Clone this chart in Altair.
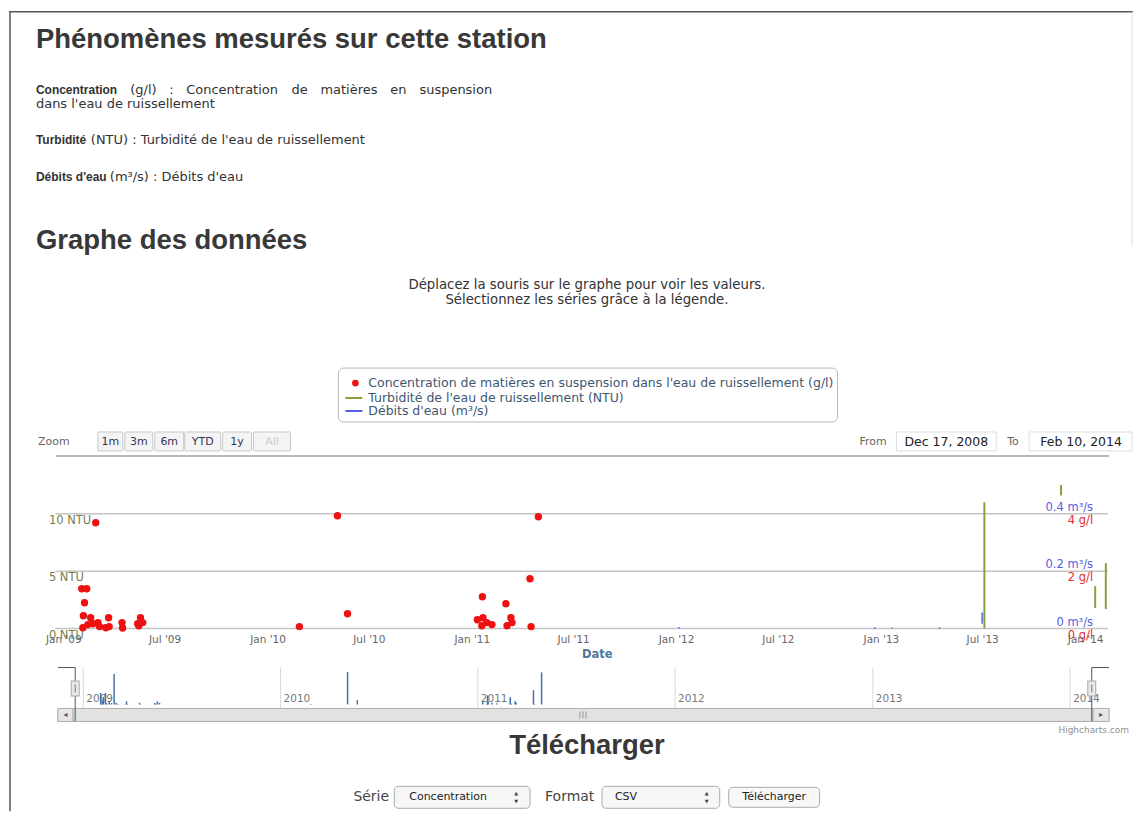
import altair as alt
import pandas as pd

# ---------------- data ----------------
conc_dates = ["2009-02-27", "2009-02-02", "2009-02-11", "2009-02-07", "2009-02-05", "2009-02-04",
              "2009-02-13", "2009-02-22", "2009-02-18", "2009-03-03", "2009-03-06", "2009-03-17",
              "2009-03-22", "2009-03-23", "2009-04-15", "2009-04-16", "2009-05-13", "2009-05-18",
              "2009-05-22", "2009-05-15", "2010-02-26", "2010-05-05", "2010-05-23", "2011-04-29",
              "2011-04-14", "2011-01-19", "2011-03-02", "2011-01-10", "2011-01-20", "2011-01-27",
              "2011-02-05", "2011-01-18", "2011-03-11", "2011-03-04", "2011-03-13", "2011-04-16"]
conc_values = [3.69, 1.39, 1.39, 0.90, 0.45, 0.03,
               0.14, 0.17, 0.38, 0.21, 0.07, 0.03,
               0.38, 0.07, 0.21, 0.02, 0.17, 0.38,
               0.21, 0.10, 0.07, 3.93, 0.52, 3.90,
               1.74, 1.11, 0.87, 0.31, 0.38, 0.21,
               0.14, 0.10, 0.38, 0.10, 0.21, 0.07]

turb_seg = ["a", "a", "b", "b", "c", "c", "d", "d"]
turb_dates = ["2013-07-04", "2013-07-04", "2013-11-18", "2013-11-18",
              "2014-01-18", "2014-01-18", "2014-02-06", "2014-02-06"]
turb_values = [0.0, 11.0, 11.6, 12.5, 1.8, 3.7, 1.7, 5.7]

flow_seg = ["a", "a", "b", "b", "c", "c", "d", "d", "e", "e"]
flow_dates = ["2013-06-30", "2013-06-30", "2012-01-05", "2012-01-05", "2012-12-20", "2012-12-20",
              "2013-01-20", "2013-01-20", "2013-04-15", "2013-04-15"]
flow_values = [0.017, 0.056, 0.0, 0.006, 0.0, 0.005, 0.0, 0.004, 0.0, 0.005]

sel_range = ["2008-12-17", "2014-02-10"]
sel_labels = ["Dec 17, 2008", "Feb 10, 2014"]
nav_domain = ["2008-11-15", "2014-03-14"]
main_tick_dates = ["2009-01-01", "2009-07-01", "2010-01-01", "2010-07-01", "2011-01-01",
                   "2011-07-01", "2012-01-01", "2012-07-01", "2013-01-01", "2013-07-01", "2014-01-01"]
main_tick_labels = ["Jan '09", "Jul '09", "Jan '10", "Jul '10", "Jan '11", "Jul '11",
                    "Jan '12", "Jul '12", "Jan '13", "Jul '13", "Jan '14"]
nav_year_dates = ["2009-01-01", "2010-01-01", "2011-01-01", "2012-01-01", "2013-01-01", "2014-01-01"]
nav_year_labels = ["2009", "2010", "2011", "2012", "2013", "2014"]

ntu_ticks = [0, 5, 10]
ntu_labels = ["0 NTU", "5 NTU", "10 NTU"]
gl_ticks = [0, 2, 4]
gl_labels = ["0 g/l", "2 g/l", "4 g/l"]
flow_ticks = [0, 0.2, 0.4]
flow_labels = ["0 m³/s", "0.2 m³/s", "0.4 m³/s"]

legend_labels = ["Concentration de matières en suspension dans l'eau de ruissellement (g/l)",
                 "Turbidité de l'eau de ruissellement (NTU)",
                 "Débits d'eau (m³/s)"]
zoom_buttons = ["1m", "3m", "6m", "YTD", "1y", "All"]

# ---------------- styling ----------------
RED = "#ee1111"
GREEN = "#86a03a"
BLUE = "#5560e0"
SANS = "Liberation Sans"
HC = "DejaVu Sans"
O = 8  # page margin

ONE = pd.DataFrame({"k": [0]})


def dt(s):
    y, m, d = map(int, s.split("-"))
    return alt.DateTime(year=y, month=m, date=d, utc=True)


def T(s, x, y, size=12, weight="normal", color="#333333", align="left", font=HC, baseline="middle"):
    return alt.Chart(ONE).mark_text(text=s, align=align, baseline=baseline, fontSize=size,
                                    fontWeight=weight, color=color, font=font).encode(
        x=alt.value(x - O), y=alt.value(y - O))


def R(x1, y1, x2, y2, fill="white", stroke="#aaaaaa", sw=1, r=0):
    return alt.Chart(ONE).mark_rect(fill=fill, stroke=stroke, strokeWidth=sw, cornerRadius=r).encode(
        x=alt.value(x1 - O), x2=alt.value(x2 - O), y=alt.value(y1 - O), y2=alt.value(y2 - O))


def HL(x1, x2, y, color="#bbbbbb", sw=1):
    return alt.Chart(ONE).mark_rule(color=color, strokeWidth=sw).encode(
        x=alt.value(x1 - O), x2=alt.value(x2 - O), y=alt.value(y - O))


def VL(x, y1, y2, color="#bbbbbb", sw=1):
    return alt.Chart(ONE).mark_rule(color=color, strokeWidth=sw).encode(
        x=alt.value(x - O), y=alt.value(y1 - O), y2=alt.value(y2 - O))


ui = []
# page frame
ui.append(HL(8, 1134, 11, "#555555", 1.5))
ui.append(VL(9, 11, 812, "#555555", 1.5))
ui.append(VL(1133, 11, 245, "#dddddd", 1))

# header texts
ui.append(T("Phénomènes mesurés sur cette station", 35, 39, 27.5, "bold", "#383838", font=SANS))
ui.append(T("Concentration", 35, 89, 12, "bold", font=SANS))
line1_words = ["(g/l)", ":", "Concentration", "de", "matières", "en"]
line1_x = [129.5, 168.5, 185.5, 291, 320, 390]
for w, xx in zip(line1_words, line1_x):
    ui.append(T(w, xx, 89, 13))
ui.append(T("suspension", 492, 89, 13, align="right"))
ui.append(T("dans l'eau de ruissellement", 35, 103, 13))
ui.append(T("Turbidité", 35, 140, 12, "bold", font=SANS))
ui.append(T("(NTU) : Turbidité de l'eau de ruissellement", 90, 140, 13))
ui.append(T("Débits d'eau", 35, 177, 12, "bold", font=SANS))
ui.append(T("(m³/s) : Débits d'eau", 109, 177, 13))
ui.append(T("Graphe des données", 35, 241, 27.5, "bold", "#383838", font=SANS))
ui.append(T("Déplacez la souris sur le graphe pour voir les valeurs.", 587, 285, 13.3, align="center"))
ui.append(T("Sélectionnez les séries grâce à la légende.", 587, 300, 13.3, align="center"))

# legend
ui.append(R(338, 368, 838, 422, "white", "#b8b8b8", 1, 5))
ui.append(alt.Chart(ONE).mark_point(filled=True, size=45, color=RED, opacity=1).encode(
    x=alt.value(355 - O), y=alt.value(383 - O)))
ui.append(HL(345, 362, 398, GREEN, 2))
ui.append(HL(345, 362, 411, BLUE, 2))
for lab, yy in zip(legend_labels, [383, 398, 411]):
    ui.append(T(lab, 368, yy, 12.5, color="#3e576f"))

# range selector
ui.append(T("Zoom", 37, 442, 11, color="#666666"))
btn_x = [(97, 122), (124, 152), (154, 183), (184, 220), (222, 251), (253, 290)]
for lab, (x1, x2) in zip(zoom_buttons, btn_x):
    ui.append(R(x1, 432, x2, 451, "#f4f4f4", "#c8c8c8", 1, 1))
    ui.append(T(lab, (x1 + x2) / 2, 442, 11, color="#cccccc" if lab == "All" else "#333355",
                align="center"))
ui.append(T("From", 860, 442, 11, color="#666666"))
ui.append(R(897, 432, 997, 451, "white", "#dddddd"))
ui.append(T(sel_labels[0], 947, 442, 12.5, color="#222222", align="center"))
ui.append(T("To", 1008, 442, 11, color="#666666"))
ui.append(R(1030, 432, 1133, 451, "white", "#dddddd"))
ui.append(T(sel_labels[1], 1082, 442, 12.5, color="#222222", align="center"))
ui.append(HL(55, 1110, 456, "#b8b8b8", 2))

# scrollbar
ui.append(R(57, 709, 1110, 722, "#eeeeee", "#bbbbbb", 1))
ui.append(R(72, 709, 1094, 722, "#e2e2e2", "#b0b0b0", 1))
ui.append(R(57, 709, 72, 722, "#e6e6e6", "#b0b0b0", 1))
ui.append(R(1094, 709, 1110, 722, "#e6e6e6", "#b0b0b0", 1))
ui.append(T("◂", 64.5, 716, 8, color="#555555", align="center"))
ui.append(T("▸", 1102, 716, 8, color="#555555", align="center"))
for gx in [580, 583, 586]:
    ui.append(VL(gx, 712, 719, "#999999", 1))
ui.append(T("Highcharts.com", 1130, 731, 9, color="#909090", align="right"))

# footer
ui.append(T("Télécharger", 587, 747, 27.5, "bold", "#383838", align="center", font=SANS))
ui.append(T("Série", 353, 798, 14, color="#444444"))
ui.append(R(394, 787, 530, 809, "#f6f6f6", "#aaaaaa", 1, 4))
ui.append(T("Concentration", 409, 798, 11, color="#222222"))
ui.append(T("▲", 516, 794, 5, color="#444444", align="center"))
ui.append(T("▼", 516, 802, 5, color="#444444", align="center"))
ui.append(T("Format", 545, 798, 14, color="#444444"))
ui.append(R(602, 787, 720, 809, "#f6f6f6", "#aaaaaa", 1, 4))
ui.append(T("CSV", 615, 798, 11, color="#222222"))
ui.append(T("▲", 707, 794, 5, color="#444444", align="center"))
ui.append(T("▼", 707, 802, 5, color="#444444", align="center"))
ui.append(R(729, 788, 820, 808, "#f8f8f8", "#aaaaaa", 1, 4))
ui.append(T("Télécharger", 774.5, 798, 11, color="#222222", align="center"))

# ---------------- main plot ----------------
main_x = alt.Scale(type="utc", domain=[dt(s) for s in sel_range], range=[54.5 - O, 1109 - O])
ntu_y = alt.Scale(domain=[0, 10], range=[629 - O, 514 - O])
gl_y = alt.Scale(domain=[0, 4], range=[629 - O, 514 - O])
flow_y = alt.Scale(domain=[0, 0.4], range=[629 - O, 514 - O])

grid_df = pd.DataFrame({"v": ntu_ticks, "s": sel_range[0], "e": sel_range[1]})
grid = alt.Chart(grid_df).mark_rule(color="#c4c4c4", strokeWidth=1.5).encode(
    x=alt.X("s:T", scale=main_x, axis=None), x2="e:T",
    y=alt.Y("v:Q", scale=ntu_y, axis=None))

ntu_lab = alt.Chart(pd.DataFrame({"v": ntu_ticks, "t": ntu_labels})).mark_text(
    align="left", baseline="middle", dy=7, font=HC, fontSize=11.5, color="#77804a").encode(
    x=alt.value(48 - O), y=alt.Y("v:Q", scale=ntu_y, axis=None), text="t:N")
flow_lab = alt.Chart(pd.DataFrame({"v": flow_ticks, "t": flow_labels})).mark_text(
    align="right", baseline="middle", dy=-6, font=HC, fontSize=11.5, color=BLUE).encode(
    x=alt.value(1094 - O), y=alt.Y("v:Q", scale=flow_y, axis=None), text="t:N")
gl_lab = alt.Chart(pd.DataFrame({"v": gl_ticks, "t": gl_labels})).mark_text(
    align="right", baseline="middle", dy=7, font=HC, fontSize=11.5, color="#e03030").encode(
    x=alt.value(1094 - O), y=alt.Y("v:Q", scale=gl_y, axis=None), text="t:N")

xlab = alt.Chart(pd.DataFrame({"d": main_tick_dates, "t": main_tick_labels})).mark_text(
    align="center", baseline="middle", font=HC, fontSize=10.5, color="#666666").encode(
    x=alt.X("d:T", scale=main_x, axis=None), y=alt.value(640 - O), text="t:N")

turb = alt.Chart(pd.DataFrame({"d": turb_dates, "v": turb_values, "g": turb_seg})).mark_line(
    color=GREEN, strokeWidth=2).encode(
    x=alt.X("d:T", scale=main_x, axis=None), y=alt.Y("v:Q", scale=ntu_y, axis=None), detail="g:N")
flow = alt.Chart(pd.DataFrame({"d": flow_dates, "v": flow_values, "g": flow_seg})).mark_line(
    color=BLUE, strokeWidth=1.5).encode(
    x=alt.X("d:T", scale=main_x, axis=None), y=alt.Y("v:Q", scale=flow_y, axis=None), detail="g:N")
dots = alt.Chart(pd.DataFrame({"d": conc_dates, "v": conc_values})).mark_circle(
    color=RED, size=55, opacity=1).encode(
    x=alt.X("d:T", scale=main_x, axis=None), y=alt.Y("v:Q", scale=gl_y, axis=None))

main_group = alt.layer(grid, ntu_lab, flow_lab, gl_lab, xlab, turb, flow, dots).resolve_scale(
    y="independent")
ui.append(T("Date", 582, 655, 11.5, "bold", "#4d759e"))

# ---------------- navigator ----------------
nav_x = alt.Scale(type="utc", domain=[dt(s) for s in nav_domain], range=[57 - O, 1110 - O])
nav_y = alt.Scale(domain=[0, 4], range=[705 - O, 672 - O])

years_df = pd.DataFrame({"d": nav_year_dates, "t": nav_year_labels})
nav_grid = alt.Chart(years_df).mark_rule(color="#d8d8d8", strokeWidth=1).encode(
    x=alt.X("d:T", scale=nav_x, axis=None), y=alt.value(668 - O), y2=alt.value(709 - O))
nav_lab = alt.Chart(years_df).mark_text(align="left", baseline="middle", dx=3, font=HC,
                                        fontSize=10.5, color="#777777").encode(
    x=alt.X("d:T", scale=nav_x, axis=None), y=alt.value(700 - O), text="t:N")
nav_series = alt.Chart(pd.DataFrame({"d": conc_dates, "v": conc_values})).mark_rule(
    color="#4572a7", strokeWidth=1.5).encode(
    x=alt.X("d:T", scale=nav_x, axis=None), y=alt.Y("v:Q", scale=nav_y, axis=None), y2=alt.datum(0))

out_df = pd.DataFrame({"a": [nav_domain[0], sel_range[1]], "b": [sel_range[0], nav_domain[1]]})
nav_out_h = alt.Chart(out_df).mark_rule(color="#555555", strokeWidth=1).encode(
    x=alt.X("a:T", scale=nav_x, axis=None), x2="b:T", y=alt.value(668 - O))
sel_df = pd.DataFrame({"d": sel_range})
nav_out_v = alt.Chart(sel_df).mark_rule(color="#555555", strokeWidth=1).encode(
    x=alt.X("d:T", scale=nav_x, axis=None), y=alt.value(668 - O), y2=alt.value(722 - O))
handle_b = alt.Chart(sel_df).mark_rule(color="#a8a8b0", strokeWidth=9).encode(
    x=alt.X("d:T", scale=nav_x, axis=None), y=alt.value(681 - O), y2=alt.value(697 - O))
handle_f = alt.Chart(sel_df).mark_rule(color="#ebe7e8", strokeWidth=7).encode(
    x=alt.X("d:T", scale=nav_x, axis=None), y=alt.value(682 - O), y2=alt.value(696 - O))
handle_g = alt.Chart(sel_df).mark_rule(color="#777777", strokeWidth=1).encode(
    x=alt.X("d:T", scale=nav_x, axis=None), y=alt.value(685 - O), y2=alt.value(693 - O))

nav_group = alt.layer(nav_grid, nav_lab, nav_series, nav_out_h, nav_out_v,
                      handle_b, handle_f, handle_g)

chart = alt.layer(*ui, main_group, nav_group).resolve_scale(
    x="independent", y="independent").properties(
    width=1126, height=629 - O, padding=0, background="white").configure_view(strokeWidth=0)

chart.save("out.html", embed_options={"renderer": "svg", "actions": False})
